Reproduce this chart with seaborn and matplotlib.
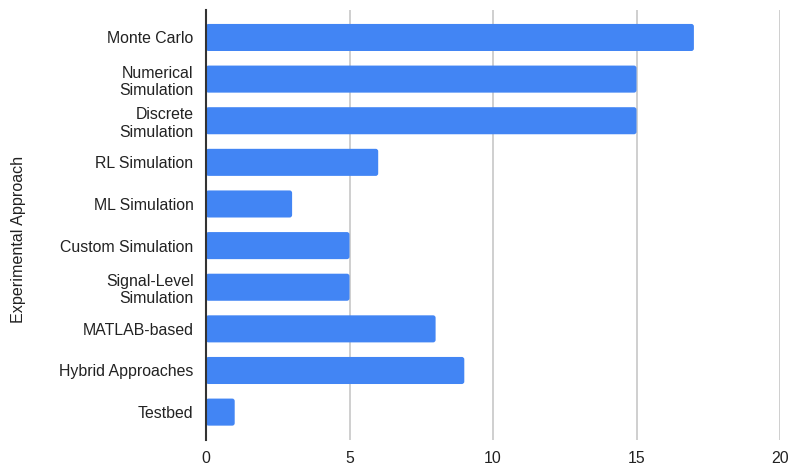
import matplotlib
matplotlib.use("Agg")
import matplotlib.pyplot as plt
from matplotlib.patches import FancyBboxPatch
import seaborn as sns
import pandas as pd

approaches = [
    "Monte Carlo",
    "Numerical\nSimulation",
    "Discrete\nSimulation",
    "RL Simulation",
    "ML Simulation",
    "Custom Simulation",
    "Signal-Level\nSimulation",
    "MATLAB-based",
    "Hybrid Approaches",
    "Testbed",
]
counts = [17, 15, 15, 6, 3, 5, 5, 8, 9, 1]
x_ticks = [0, 5, 10, 15, 20]

df = pd.DataFrame({"approach": approaches, "count": counts})

sns.set_theme(style="white")
plt.rcParams["font.family"] = ["Liberation Sans", "DejaVu Sans"]

fig = plt.figure(figsize=(7.9, 4.67), dpi=100)
ax = fig.add_axes([206 / 790, 1 - 440 / 467, 574 / 790, 430 / 467])

bar_color = "#4285F4"
sns.barplot(data=df, x="count", y="approach", color=bar_color, saturation=1,
            width=0.65, ax=ax, zorder=3)

ax.set_xlim(0, 20)
ax.set_ylim(9.67, -0.66)

# give each bar slightly rounded corners
fig.canvas.draw()
x_px = ax.bbox.width / 20.0
y_px = ax.bbox.height / (9.67 + 0.66)
for p in list(ax.patches):
    x0, y0 = p.get_x(), p.get_y()
    w, h = p.get_width(), p.get_height()
    p.remove()
    ax.add_patch(FancyBboxPatch(
        (x0, y0), w, h,
        boxstyle=f"round,pad=0,rounding_size={2.5 / x_px}",
        mutation_aspect=x_px / y_px,
        facecolor=bar_color, edgecolor="none", zorder=3))

ax.set_xticks(x_ticks)
ax.set_xticklabels([str(t) for t in x_ticks])
ax.grid(axis="x", color="#cccccc", linewidth=1.3, zorder=0)
ax.set_axisbelow(True)

for side in ["top", "right", "bottom"]:
    ax.spines[side].set_visible(False)
ax.spines["left"].set_color("#333333")
ax.spines["left"].set_linewidth(1.5)
ax.spines["left"].set_zorder(4)

ax.tick_params(axis="both", length=0, labelsize=11.4, colors="#222222")
ax.tick_params(axis="y", pad=9)
ax.tick_params(axis="x", pad=8)
for lbl in ax.get_yticklabels():
    lbl.set_multialignment("right")

ax.set_xlabel("")
ax.set_ylabel("Experimental Approach", fontsize=11.6, color="#222222")
ax.yaxis.set_label_coords(-180 / 574, 0.467)

fig.savefig("out.png", dpi=100)
